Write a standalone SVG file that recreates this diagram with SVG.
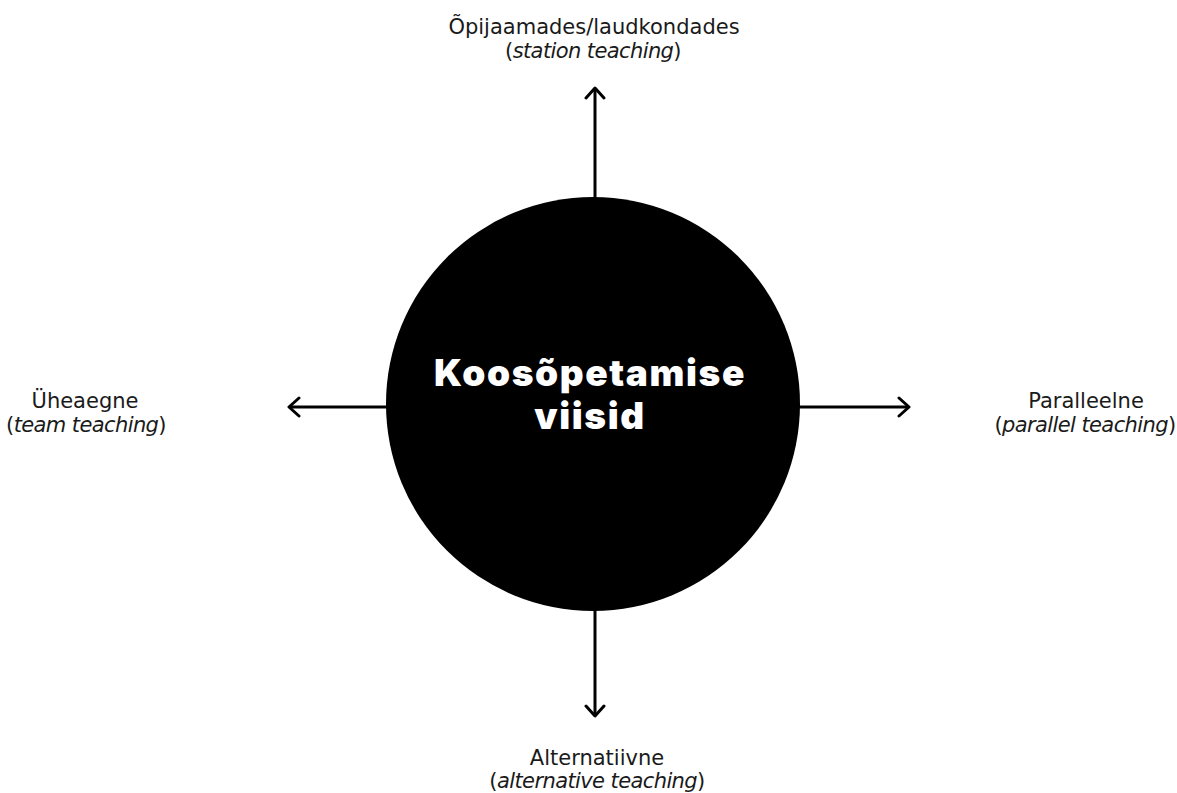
<svg xmlns="http://www.w3.org/2000/svg" width="1177" height="793" viewBox="0 0 1177 793">
<style>
.lbl{font-family:"DejaVu Sans","Liberation Sans",sans-serif;font-size:21px;fill:#1a1a1a;text-anchor:middle}
.sub{letter-spacing:-0.6px}
.it{font-style:italic}
.title{font-family:Inter,"Liberation Sans",sans-serif;font-size:37px;font-weight:900;fill:#fff;text-anchor:middle;letter-spacing:1.6px}
.conn{stroke:#000;stroke-width:3;fill:none}
</style>
<defs>
<marker id="ah" viewBox="0 0 14 22" refX="12" refY="11" markerWidth="14" markerHeight="22" markerUnits="userSpaceOnUse" orient="auto">
<path d="M2,2 L12,11 L2,20" stroke="#000" stroke-width="3" fill="none" stroke-linecap="round" stroke-linejoin="round"/>
</marker>
</defs>
<rect width="1177" height="793" fill="#fff"/>
<g id="connectors">
<line class="conn" x1="595" y1="198" x2="595" y2="88" marker-end="url(#ah)"/>
<line class="conn" x1="387" y1="407" x2="289" y2="407" marker-end="url(#ah)"/>
<line class="conn" x1="799" y1="407" x2="909" y2="407" marker-end="url(#ah)"/>
<line class="conn" x1="595" y1="609" x2="595" y2="716" marker-end="url(#ah)"/>
</g>
<g id="center">
<circle cx="593" cy="404" r="207" fill="#000"/>
<text class="title" x="590" y="386">Koosõpetamise</text>
<text class="title" x="590" y="429">viisid</text>
</g>
<g id="top">
<text class="lbl" x="594" y="34">Õpijaamades/laudkondades</text>
<text class="lbl sub" x="593" y="58">(<tspan class="it">station teaching</tspan>)</text>
</g>
<g id="left">
<text class="lbl" x="85" y="408">Üheaegne</text>
<text class="lbl sub" x="86" y="432">(<tspan class="it">team teaching</tspan>)</text>
</g>
<g id="right">
<text class="lbl" x="1086" y="408">Paralleelne</text>
<text class="lbl sub" x="1085" y="432">(<tspan class="it">parallel teaching</tspan>)</text>
</g>
<g id="bottom">
<text class="lbl" x="597" y="765">Alternatiivne</text>
<text class="lbl sub" x="597" y="788">(<tspan class="it">alternative teaching</tspan>)</text>
</g>
</svg>
